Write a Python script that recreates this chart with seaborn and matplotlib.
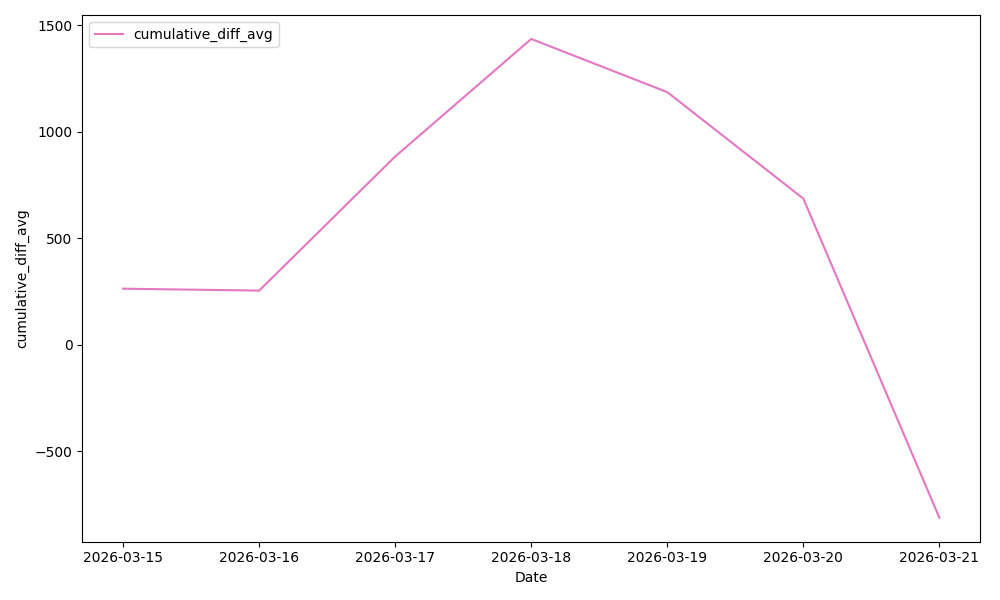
import pandas as pd
import matplotlib.pyplot as plt
import seaborn as sb

# values
dates = ["2026-03-15", "2026-03-16", "2026-03-17", "2026-03-18",
         "2026-03-19", "2026-03-20", "2026-03-21"]
cumulative_diff_avg = [263, 254, 884, 1436, 1186, 686, -813]

df = pd.DataFrame({"Date": pd.to_datetime(dates),
                   "cumulative_diff_avg": cumulative_diff_avg})

fig, ax = plt.subplots(figsize=(10, 6))
sb.lineplot(data=df, x="Date", y="cumulative_diff_avg", color="tab:pink",
            label="cumulative_diff_avg", ax=ax)
ax.set_xticks(df["Date"])
ax.set_xticklabels(dates)
ax.legend(loc="upper left")

plt.tight_layout()
plt.savefig("out.png", dpi=100)
